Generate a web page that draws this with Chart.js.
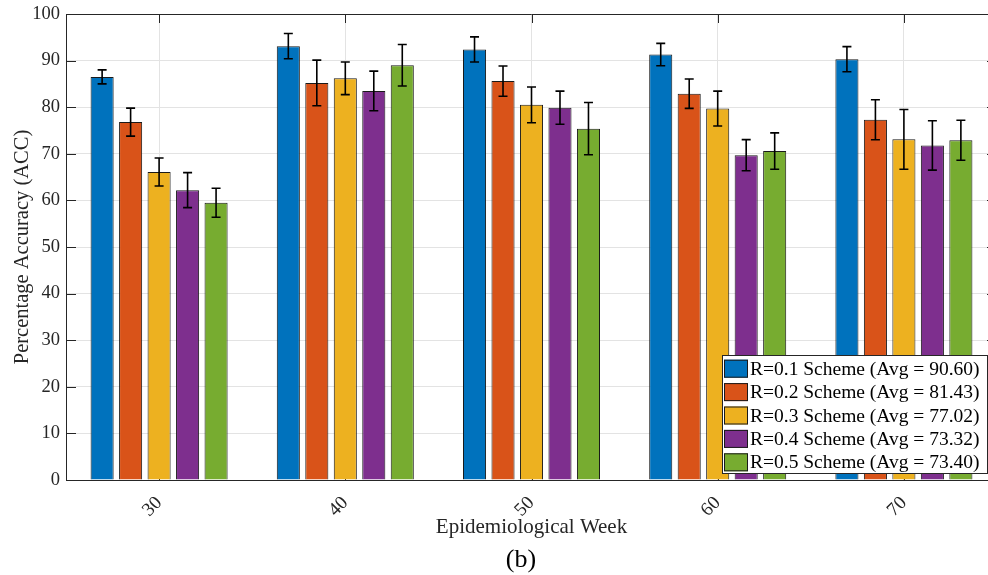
<!DOCTYPE html>
<html>
<head>
<meta charset="utf-8">
<script src="https://cdn.jsdelivr.net/npm/chart.js@4.4.1/dist/chart.umd.min.js"></script>
<style>
    html, body { margin: 0; padding: 0; background: #fff; overflow: hidden; }
    #wrap { width: 1010px; height: 575px; }
</style>
</head>
<body>
<div id="wrap"><canvas id="accChart" width="1010" height="575"></canvas></div>
<script>
// week labels on the x axis
const weeks = ['30', '40', '50', '60', '70'];

// bar heights per scheme
const r01 = [86.5, 93.1, 92.4, 91.3, 90.3];
const r02 = [76.8, 85.2, 85.6, 82.9, 77.3];
const r03 = [66.1, 86.2, 80.5, 79.7, 73.1];
const r04 = [62.2, 83.5, 79.9, 69.7, 71.8];
const r05 = [59.5, 89.0, 75.4, 70.6, 72.9];

// half length of each error bar
const err01 = [1.5, 2.7, 2.7, 2.4, 2.7];
const err02 = [3.0, 4.9, 3.25, 3.15, 4.3];
const err03 = [3.0, 3.5, 3.85, 3.75, 6.4];
const err04 = [3.75, 4.25, 3.55, 3.35, 5.3];
const err05 = [3.1, 4.45, 5.6, 3.9, 4.3];

const schemes = ['0.1', '0.2', '0.3', '0.4', '0.5'];
const averages = ['90.60', '81.43', '77.02', '73.32', '73.40'];
const yTicks = [0, 10, 20, 30, 40, 50, 60, 70, 80, 90, 100];

const colors = ['#0072BD', '#D95319', '#EDB120', '#7E2F8E', '#77AC30'];
const values = [r01, r02, r03, r04, r05];
const errors = [err01, err02, err03, err04, err05];

const FONT = "'Liberation Serif', 'Times New Roman', serif";
const AXIS_COLOR = '#262626';

// gridline-layer extras: inward ticks and the top/right box lines
const boxPlugin = {
    id: 'box',
    beforeDatasetsDraw(chart) {
        const { ctx, chartArea: a, scales: { x, y } } = chart;
        ctx.save();
        ctx.strokeStyle = AXIS_COLOR;
        ctx.lineWidth = 1;
        ctx.beginPath();
        yTicks.forEach(v => {
            const py = Math.round(y.getPixelForValue(v)) + 0.5;
            ctx.moveTo(a.left, py); ctx.lineTo(a.left + 10, py);
            ctx.moveTo(a.right, py); ctx.lineTo(a.right - 10, py);
        });
        weeks.forEach((w, i) => {
            const px = Math.round(x.getPixelForValue(i)) + 0.5;
            ctx.moveTo(px, a.top); ctx.lineTo(px, a.top + 9);
            ctx.moveTo(px, a.bottom); ctx.lineTo(px, a.bottom - 9);
        });
        ctx.stroke();
        ctx.restore();
    },
    afterDatasetsDraw(chart) {
        const { ctx, chartArea: a } = chart;
        ctx.save();
        ctx.strokeStyle = AXIS_COLOR;
        ctx.lineWidth = 1;
        ctx.beginPath();
        ctx.moveTo(a.left, Math.round(a.top) + 0.5);
        ctx.lineTo(a.right, Math.round(a.top) + 0.5);
        ctx.lineTo(a.right, a.bottom);
        ctx.stroke();
        ctx.restore();
    }
};

// error bars with caps
const errorBarPlugin = {
    id: 'errorBars',
    afterDatasetsDraw(chart) {
        const { ctx, scales: { y } } = chart;
        ctx.save();
        ctx.strokeStyle = '#000';
        ctx.lineWidth = 1.6;
        chart.data.datasets.forEach((ds, di) => {
            const meta = chart.getDatasetMeta(di);
            meta.data.forEach((bar, i) => {
                const v = ds.data[i];
                const e = errors[di][i];
                const top = y.getPixelForValue(v + e);
                const bottom = y.getPixelForValue(v - e);
                ctx.beginPath();
                ctx.moveTo(bar.x, top); ctx.lineTo(bar.x, bottom);
                ctx.moveTo(bar.x - 4.5, top); ctx.lineTo(bar.x + 4.5, top);
                ctx.moveTo(bar.x - 4.5, bottom); ctx.lineTo(bar.x + 4.5, bottom);
                ctx.stroke();
            });
        });
        ctx.restore();
    }
};

// legend box in the lower right corner and the "(b)" caption
const legendPlugin = {
    id: 'legendBox',
    afterDraw(chart) {
        const { ctx } = chart;
        const left = 722, top = 355, width = 265, rowH = 23.4;
        ctx.save();
        ctx.fillStyle = '#fff';
        ctx.fillRect(left, top, width, rowH * 5 + 1);
        ctx.strokeStyle = AXIS_COLOR;
        ctx.lineWidth = 1;
        ctx.strokeRect(left + 0.5, top + 0.5, width, rowH * 5 + 1);
        ctx.font = '19.5px ' + FONT;
        ctx.textBaseline = 'middle';
        ctx.textAlign = 'left';
        chart.data.datasets.forEach((ds, i) => {
            const cy = top + 2 + rowH * i + rowH / 2;
            ctx.fillStyle = ds.backgroundColor;
            ctx.fillRect(left + 2, cy - 9, 24, 18);
            ctx.strokeStyle = '#1a1a1a';
            ctx.strokeRect(left + 2.5, cy - 8.5, 23, 17);
            ctx.fillStyle = '#000';
            ctx.fillText(ds.label, left + 28, cy + 1);
        });
        ctx.font = '26px ' + FONT;
        ctx.textAlign = 'center';
        ctx.fillStyle = '#000';
        ctx.fillText('(b)', 521, 560);
        ctx.restore();
    }
};

const ctx = document.getElementById('accChart').getContext('2d');

window.accChart = new Chart(ctx, {
    type: 'bar',
    data: {
        labels: weeks,
        datasets: values.map((vals, i) => ({
            label: `R=${schemes[i]} Scheme (Avg = ${averages[i]})`,
            data: vals,
            backgroundColor: colors[i],
            borderColor: '#1a1a1a',
            borderWidth: 1,
            categoryPercentage: 0.765,
            barPercentage: 0.81
        }))
    },
    options: {
        responsive: false,
        animation: false,
        devicePixelRatio: 1,
        layout: {
            padding: { left: 0, right: 13, top: 14, bottom: 0 }
        },
        scales: {
            x: {
                grid: { color: '#e3e3e3', offset: false, drawTicks: false },
                border: { color: AXIS_COLOR, width: 1 },
                ticks: {
                    color: AXIS_COLOR,
                    font: { family: FONT, size: 19 },
                    minRotation: 45,
                    maxRotation: 45,
                    padding: 12
                },
                title: {
                    display: true,
                    text: 'Epidemiological Week',
                    color: AXIS_COLOR,
                    font: { family: FONT, size: 21 },
                    padding: { top: 0, bottom: 35 }
                },
                afterFit: function (scale) {
                    scale.height = 95;
                    scale.paddingLeft = 0;
                    scale.paddingRight = 0;
                }
            },
            y: {
                min: 0,
                max: 100,
                grid: { color: '#e3e3e3', drawTicks: false },
                border: { color: AXIS_COLOR, width: 1 },
                ticks: {
                    stepSize: 10,
                    color: AXIS_COLOR,
                    font: { family: FONT, size: 18.5 },
                    padding: 6
                },
                title: {
                    display: true,
                    text: 'Percentage Accuracy (ACC)',
                    color: AXIS_COLOR,
                    font: { family: FONT, size: 20.5 },
                    padding: { top: 10, bottom: 0 }
                },
                afterFit: function (scale) {
                    scale.width = 66;
                    scale.paddingTop = 0;
                    scale.paddingBottom = 0;
                }
            }
        },
        plugins: {
            legend: { display: false },
            tooltip: { enabled: false }
        }
    },
    plugins: [boxPlugin, errorBarPlugin, legendPlugin]
});
</script>
</body>
</html>
